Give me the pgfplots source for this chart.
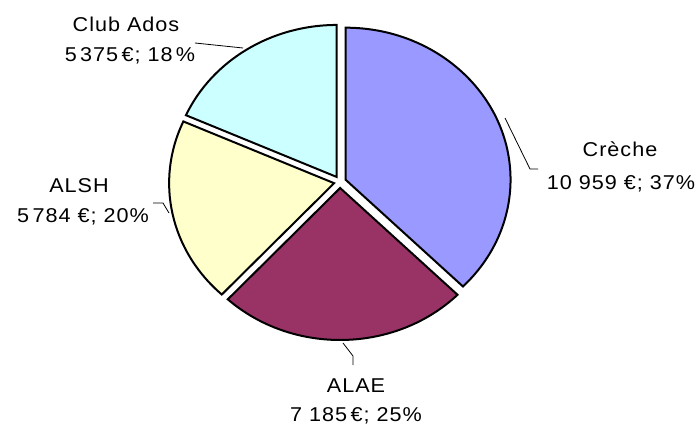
\documentclass[border=0pt]{standalone}
\usepackage{pgfplots}
\pgfplotsset{compat=1.18}
\usepackage{pgfplotstable}
\usetikzlibrary{calc}
\usepackage{fontspec}
\setmainfont{Liberation Sans}[FakeStretch=1.08, LetterSpace=5]
\definecolor{creche}{HTML}{9999FF}
\definecolor{alae}{HTML}{993366}
\definecolor{alsh}{HTML}{FFFFCC}
\definecolor{club}{HTML}{CCFFFF}
\begin{document}
\begin{tikzpicture}
\useasboundingbox (0,0) rectangle (700pt,423pt);
\begin{axis}[
  x=1pt, y=1pt,
  xmin=0, xmax=700, ymin=0, ymax=423,
  hide axis, clip=false,
  anchor=origin, at={(0,0)},
]
\pgfplotsextra{
  \xdef\cur{90}
  \foreach \v/\col in {10959/creche, 7185/alae, 5784/alsh, 5375/club}{
    \pgfmathsetmacro\s{\cur}
    \pgfmathsetmacro\e{\cur-(\v/100)/293.03*360}
    \pgfmathsetmacro\m{(\s+\e)/2}
    \filldraw[fill=\col, draw=black, line width=2pt, line join=miter]
      ($(axis cs:340,241)+(\m:6pt)$) -- ++(\s:165pt and 152pt)
      arc[start angle=\s, end angle=\e, x radius=165pt, y radius=152pt] -- cycle;
    \xdef\cur{\e}
  }
}
\draw[black, line width=0.8pt] (axis cs:195,380) -- (axis cs:243,375);
\draw[black, line width=0.8pt] (axis cs:538,254) -- (axis cs:530,254) -- (axis cs:505,305);
\draw[black, line width=0.8pt] (axis cs:153,220) -- (axis cs:163,220) -- (axis cs:169,210);
\draw[black, line width=0.8pt] (axis cs:343,80) -- (axis cs:353,67) -- (axis cs:353,58);
\begin{scope}[every node/.style={anchor=base, inner sep=0pt, font=\fontsize{20}{24}\selectfont}]
\node at (axis cs:126,391) {Club Ados};
\node at (axis cs:130,361) {5\,375\,€; 18\,\%};
\node at (axis cs:620,266) {Crèche};
\node at (axis cs:621,233) {10 959 €; 37\%};
\node at (axis cs:79,230) {ALSH};
\node at (axis cs:83,200) {5\,784 €; 20\%};
\node at (axis cs:356,31) {ALAE};
\node at (axis cs:356,2) {7 185\,€; 25\%};
\end{scope}
\end{axis}
\end{tikzpicture}
\end{document}
